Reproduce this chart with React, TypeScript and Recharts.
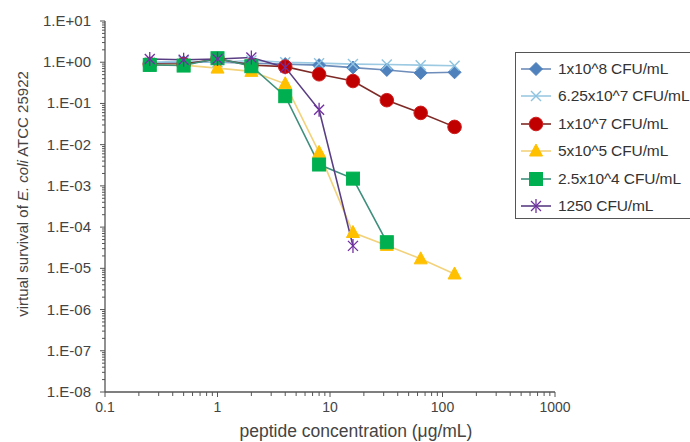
import React from "react";
import { LineChart, Line, XAxis, YAxis, Label } from "recharts";

const concentrations = [0.25, 0.5, 1, 2, 4, 8, 16, 32, 64, 128];
const s1e8 = [0.95, 1.0, 1.0, 0.95, 0.9, 0.85, 0.74, 0.65, 0.55, 0.57];
const s625e7 = [1.0, 1.05, 1.0, 1.1, 1.0, 0.95, 0.9, 0.88, 0.85, 0.82];
const s1e7 = [0.9, 0.9, 1.2, 0.85, 0.78, 0.51, 0.35, 0.12, 0.059, 0.027];
const s5e5 = [0.85, 0.85, 0.72, 0.6, 0.3, 6.5e-3, 7.4e-5, 3.6e-5, 1.7e-5, 7.3e-6];
const s25e4 = [0.86, 0.83, 1.25, 0.8, 0.15, 3.3e-3, 1.5e-3, 4.3e-5, null, null];
const s1250 = [1.2, 1.15, 1.2, 1.3, 0.75, 0.07, 3.5e-5, null, null, null];

const seriesNames = [
  "1x10^8 CFU/mL",
  "6.25x10^7 CFU/mL",
  "1x10^7 CFU/mL",
  "5x10^5 CFU/mL",
  "2.5x10^4 CFU/mL",
  "1250 CFU/mL",
];
const seriesKeys = ["a", "b", "c", "d", "e", "f"];
const seriesValues = [s1e8, s625e7, s1e7, s5e5, s25e4, s1250];
const lineColors = ["#6E8DBA", "#9CCAE3", "#7E2A26", "#F3D27C", "#3F8F7C", "#5A3E84"];
const markerColors = ["#4F81BD", "#8DC3E0", "#C00000", "#FFC000", "#00B050", "#7030A0"];
const markerKinds = ["diamond", "x", "circle", "triangle", "square", "star"];

const xMajorTicks = [0.1, 1, 10, 100, 1000];
const xMajorLabels = ["0.1", "1", "10", "100", "1000"];
const yMajorTicks = [1e-8, 1e-7, 1e-6, 1e-5, 1e-4, 1e-3, 1e-2, 1e-1, 1, 10];
const yMajorLabels = ["1.E-08", "1.E-07", "1.E-06", "1.E-05", "1.E-04", "1.E-03", "1.E-02", "1.E-01", "1.E+00", "1.E+01"];

const withMinor = (majors: number[]) => {
  const out: number[] = [];
  majors.forEach((m, i) => {
    out.push(m);
    if (i < majors.length - 1) for (let k = 2; k <= 9; k++) out.push(m * k);
  });
  return out;
};
const xTicks = withMinor(xMajorTicks);
const yTicks = withMinor(yMajorTicks);

const data = concentrations.map((x, i) => {
  const row: any = { x };
  seriesKeys.forEach((k, j) => {
    row[k] = seriesValues[j][i];
  });
  return row;
});

const AXIS = "#555555";
const FONT = "'Liberation Sans', Arial, sans-serif";

const Marker = ({ kind, cx, cy, color }: any) => {
  switch (kind) {
    case "diamond":
      return <polygon points={`${cx},${cy - 6.5} ${cx + 6.5},${cy} ${cx},${cy + 6.5} ${cx - 6.5},${cy}`} fill={color} stroke={color} />;
    case "x":
      return (
        <g stroke={color} strokeWidth={1.4}>
          <line x1={cx - 5} y1={cy - 5} x2={cx + 5} y2={cy + 5} />
          <line x1={cx - 5} y1={cy + 5} x2={cx + 5} y2={cy - 5} />
        </g>
      );
    case "circle":
      return <circle cx={cx} cy={cy} r={6.8} fill={color} stroke="#D02020" strokeWidth={1} />;
    case "triangle":
      return <polygon points={`${cx},${cy - 7} ${cx + 6.5},${cy + 5} ${cx - 6.5},${cy + 5}`} fill={color} stroke={color} />;
    case "square":
      return <rect x={cx - 6.5} y={cy - 6.5} width={13} height={13} fill={color} stroke={color} />;
    case "star":
      return (
        <g stroke={color} strokeWidth={1.3}>
          <line x1={cx - 5} y1={cy - 5} x2={cx + 5} y2={cy + 5} />
          <line x1={cx - 5} y1={cy + 5} x2={cx + 5} y2={cy - 5} />
          <line x1={cx} y1={cy - 7} x2={cx} y2={cy + 7} />
        </g>
      );
    default:
      return null;
  }
};

const makeDot = (j: number) => (props: any) => {
  const { cx, cy, index, value } = props;
  if (cx == null || cy == null || value == null || isNaN(cy)) return <g key={`d${j}-${index}`} />;
  return (
    <g key={`d${j}-${index}`}>
      <Marker kind={markerKinds[j]} cx={cx} cy={cy} color={markerColors[j]} />
    </g>
  );
};

const XTick = (props: any) => {
  const { x, y, payload } = props;
  const v = payload.value;
  const idx = xMajorTicks.findIndex((m) => Math.abs(v / m - 1) < 1e-6);
  const major = idx >= 0;
  return (
    <g>
      <line x1={x} y1={y} x2={x} y2={y + (major ? 5 : 4)} stroke={AXIS} strokeWidth={1} />
      {major && (
        <text x={x} y={y + 20} textAnchor="middle" fontSize={14} fill="#444" fontFamily={FONT}>
          {xMajorLabels[idx]}
        </text>
      )}
    </g>
  );
};

const YTick = (props: any) => {
  const { x, y, payload } = props;
  const v = payload.value;
  const idx = yMajorTicks.findIndex((m) => Math.abs(v / m - 1) < 1e-6);
  const major = idx >= 0;
  return (
    <g>
      <line x1={x} y1={y} x2={x - (major ? 5 : 3)} y2={y} stroke={AXIS} strokeWidth={1} />
      {major && (
        <text x={x - 14} y={y + 5} textAnchor="end" fontSize={15} fill="#444" fontFamily={FONT}>
          {yMajorLabels[idx]}
        </text>
      )}
    </g>
  );
};

const XTitle = () => (
  <text x={356} y={437} textAnchor="middle" fontSize={17.5} fill="#444" fontFamily={FONT}>
    peptide concentration (μg/mL)
  </text>
);

const YTitle = () => (
  <text
    x={22}
    y={194}
    transform="rotate(-90, 22, 194)"
    textAnchor="middle"
    dominantBaseline="central"
    fontSize={15}
    fill="#444"
    fontFamily={FONT}
  >
    virtual survival of <tspan fontStyle="italic">E. coli</tspan> ATCC 25922
  </text>
);

const LegendBox = () => (
  <div
    style={{
      position: "absolute",
      left: 515,
      top: 52,
      width: 200,
      height: 167,
      border: `1px solid ${AXIS}`,
      background: "#fff",
      boxSizing: "border-box",
    }}
  >
    {seriesNames.map((name, j) => (
      <div
        key={name}
        style={{
          position: "absolute",
          left: 0,
          top: 2 + j * 27.5,
          height: 27,
          display: "flex",
          alignItems: "center",
          whiteSpace: "nowrap",
        }}
      >
        <svg width={40} height={20} style={{ display: "block" }}>
          <line x1={5} y1={10} x2={35} y2={10} stroke={lineColors[j]} strokeWidth={1.6} />
          <Marker kind={markerKinds[j]} cx={20} cy={10} color={markerColors[j]} />
        </svg>
        <span style={{ fontFamily: FONT, fontSize: 15.5, color: "#333", marginLeft: 2, letterSpacing: -0.1 }}>{name}</span>
      </div>
    ))}
  </div>
);

export default function App() {
  return (
    <div style={{ position: "absolute", left: 0, top: 0, width: 690, height: 442, overflow: "hidden", background: "#fff" }}>
      <LineChart width={690} height={442} data={data} margin={{ top: 21, right: 135, bottom: 20, left: 45 }}>
        <XAxis
          dataKey="x"
          type="number"
          scale="log"
          domain={[0.1, 1000]}
          ticks={xTicks}
          interval={0}
          allowDataOverflow
          height={30}
          tickSize={0}
          tickMargin={0}
          tickLine={false}
          tick={<XTick />}
          stroke={AXIS}
          strokeWidth={1.3}
        >
          <Label content={<XTitle />} />
        </XAxis>
        <YAxis
          type="number"
          scale="log"
          domain={[1e-8, 10]}
          ticks={yTicks}
          interval={0}
          allowDataOverflow
          width={60}
          tickSize={0}
          tickMargin={0}
          tickLine={false}
          tick={<YTick />}
          stroke={AXIS}
          strokeWidth={1.3}
        >
          <Label content={<YTitle />} />
        </YAxis>
        {seriesKeys.map((k, j) => (
          <Line
            key={k}
            dataKey={k}
            name={seriesNames[j]}
            stroke={lineColors[j]}
            strokeWidth={1.6}
            dot={makeDot(j)}
            activeDot={false}
            isAnimationActive={false}
            connectNulls={false}
          />
        ))}
      </LineChart>
      <LegendBox />
    </div>
  );
}
